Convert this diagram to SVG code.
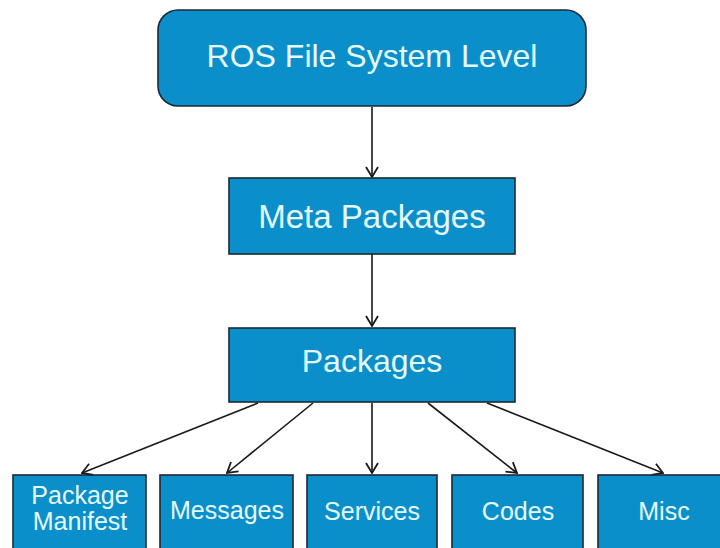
<svg xmlns="http://www.w3.org/2000/svg" width="720" height="548" viewBox="0 0 720 548">
  <style>
    .box { fill: #0b8fca; stroke: #1c2833; stroke-width: 1.6; }
    .lbl { fill: #e6fbff; font-family: "Liberation Sans", Arial, sans-serif; text-anchor: middle; }
    .big { font-size: 32px; }
    .small { font-size: 25px; }
    .edge { stroke: #1a1a1a; stroke-width: 1.6; fill: none; marker-end: url(#arr); }
  </style>
  <defs>
    <marker id="arr" viewBox="0 0 12 14" refX="11" refY="7" markerWidth="12" markerHeight="14" markerUnits="userSpaceOnUse" orient="auto">
      <path d="M1,1 L11,7 L1,13" fill="none" stroke="#1a1a1a" stroke-width="1.8"/>
    </marker>
  </defs>
  <rect width="720" height="548" fill="#ffffff"/>
  <g id="connectors">
    <line class="edge" x1="372" y1="107" x2="372" y2="177"/>
    <line class="edge" x1="372" y1="254" x2="372" y2="326"/>
    <line class="edge" x1="258" y1="403" x2="82" y2="473"/>
    <line class="edge" x1="313" y1="403" x2="227" y2="473"/>
    <line class="edge" x1="372" y1="403" x2="372" y2="473"/>
    <line class="edge" x1="428" y1="403" x2="517" y2="473"/>
    <line class="edge" x1="487" y1="403" x2="663" y2="473"/>
  </g>
  <g id="ros-fs-level">
    <rect class="box" x="158" y="10" width="428" height="96" rx="20" ry="20"/>
    <text class="lbl big" x="372" y="67">ROS File System Level</text>
  </g>
  <g id="meta-packages">
    <rect class="box" x="229" y="178" width="286" height="76"/>
    <text class="lbl" x="372" y="228" style="font-size:33px">Meta Packages</text>
  </g>
  <g id="packages">
    <rect class="box" x="229" y="328" width="286" height="74"/>
    <text class="lbl big" x="372" y="372">Packages</text>
  </g>
  <g id="package-manifest">
    <rect class="box" x="13" y="475" width="133" height="90"/>
    <text class="lbl small" x="80" y="504">Package</text>
    <text class="lbl small" x="80" y="530">Manifest</text>
  </g>
  <g id="messages">
    <rect class="box" x="160" y="475" width="133" height="90"/>
    <text class="lbl small" x="227" y="519">Messages</text>
  </g>
  <g id="services">
    <rect class="box" x="307" y="475" width="130" height="90"/>
    <text class="lbl small" x="372" y="520">Services</text>
  </g>
  <g id="codes">
    <rect class="box" x="452" y="475" width="131" height="90"/>
    <text class="lbl small" x="518" y="520">Codes</text>
  </g>
  <g id="misc">
    <rect class="box" x="598" y="475" width="133" height="90"/>
    <text class="lbl small" x="664" y="520">Misc</text>
  </g>
</svg>
